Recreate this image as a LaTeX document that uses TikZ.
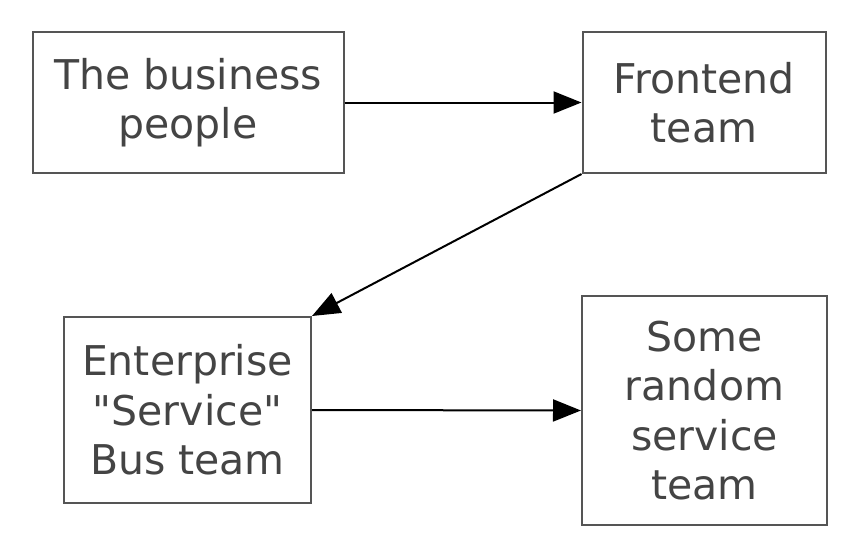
\documentclass[tikz,border=0pt]{standalone}
\usepackage{fontspec}
\setmainfont{DejaVu Sans}
\usetikzlibrary{arrows.meta, positioning}
\definecolor{cborder}{HTML}{555555}
\definecolor{ctext}{HTML}{444444}
\tikzset{
  every picture/.style={line width=2pt},
  box/.style={draw=cborder, fill=white, align=center, inner sep=0pt, text=ctext,
    font=\fontsize{41}{49.5}\selectfont},
  arrow/.style={-{Triangle[length=28pt, width=22pt]}, draw=black, line width=2pt},
}

\begin{document}
\begin{tikzpicture}[x=1pt, y=-1pt]
  \useasboundingbox (0,0) rectangle (855,555);
  \node[box, minimum width=311pt, minimum height=141pt] (biz) at (188,102.5) {The business\\people};
  \node[box, minimum width=243pt, minimum height=141pt] (front) at (704,102.5) {Frontend\\team};
  \node[box, minimum width=247pt, minimum height=186pt] (esb) at (187.5,410) {Enterprise\\\textquotedbl Service\textquotedbl\\Bus team};
  \node[box, minimum width=245pt, minimum height=229pt] (svc) at (704.5,410.5) {Some\\random\\service\\team};
  % connectors
  \draw[arrow] (biz.east) -- (front.west);
  \draw[arrow] (front.south west) -- (esb.north east);
  \draw[arrow] (esb.east) -- (svc.west);
\end{tikzpicture}
\end{document}
